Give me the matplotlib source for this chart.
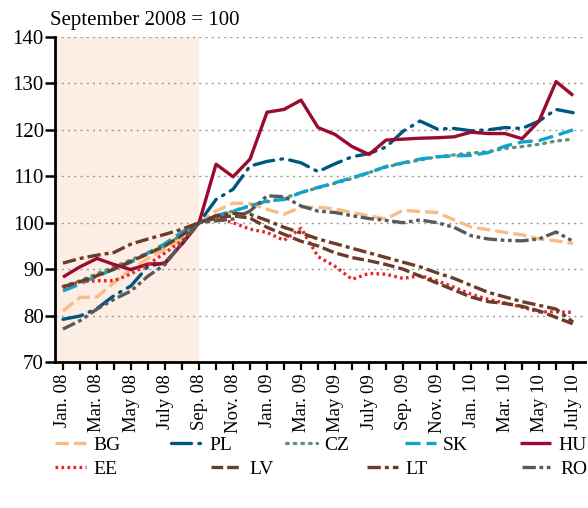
import numpy as np
import matplotlib
matplotlib.use('Agg')
import matplotlib.pyplot as plt

plt.rcParams['font.family'] = ['Liberation Serif', 'DejaVu Serif']

# Jan 08 ... July 10, one point per month
months = ['Jan. 08', '', 'Mar. 08', '', 'May 08', '', 'July 08', '', 'Sep. 08', '',
          'Nov. 08', '', 'Jan. 09', '', 'Mar. 09', '', 'May 09', '', 'July 09', '',
          'Sep. 09', '', 'Nov. 09', '', 'Jan. 10', '', 'Mar. 10', '', 'May 10', '',
          'July 10']

bg = [81.0, 83.9, 84.0, 87.1, 90.0, 92.3, 94.3, 96.5, 100, 102.5, 104.2, 104.1, 102.9,
      101.8, 103.4, 103.3, 103.0, 102.2, 101.5, 100.8, 102.7, 102.4, 102.2, 100.6,
      99.1, 98.5, 97.9, 97.4, 96.5, 96.1, 95.5]
pl = [79.2, 79.9, 81.5, 84.3, 86.4, 90.6, 91.4, 95.4, 100, 105.0, 107.2, 112.2, 113.2,
      113.8, 112.9, 111.0, 112.7, 114.2, 114.9, 116.3, 119.7, 121.9, 120.2, 120.3,
      119.8, 120.0, 120.5, 120.3, 121.9, 124.4, 123.7]
cz = [86.3, 87.5, 89.0, 90.5, 92.0, 93.5, 95.0, 97.5, 100, 101.5, 102.5, 103.7, 104.5,
      105.3, 106.5, 107.5, 108.5, 109.5, 110.8, 112.0, 112.8, 113.5, 114.2, 114.6,
      115.0, 115.3, 116.0, 116.4, 116.9, 117.6, 118.0]
sk = [85.3, 86.8, 88.5, 90.0, 91.5, 93.5, 95.5, 98.0, 100, 101.5, 102.5, 103.6, 104.7,
      105.0, 106.5, 107.6, 108.6, 109.7, 110.8, 112.1, 112.9, 113.7, 114.2, 114.4,
      114.5, 115.1, 116.5, 117.4, 117.7, 118.8, 120.0]
hu = [88.3, 90.5, 92.3, 91.0, 89.9, 91.1, 91.2, 95.5, 100, 112.6, 109.9, 113.7, 123.8,
      124.4, 126.4, 120.5, 119.0, 116.4, 114.7, 117.8, 118.0, 118.2, 118.3, 118.5,
      119.5, 119.2, 119.2, 118.1, 121.9, 130.4, 127.4]
ee = [86.0, 87.3, 87.5, 87.5, 89.0, 91.0, 93.5, 96.1, 100, 101.0, 100.0, 98.6, 97.9,
      96.2, 98.8, 92.7, 90.6, 87.8, 89.1, 88.9, 88.0, 88.6, 87.5, 86.1, 84.6, 83.5,
      82.7, 81.8, 80.8, 80.8, 80.7]
lv = [86.2, 87.3, 88.6, 90.0, 91.7, 93.3, 95.0, 97.3, 100, 101.0, 101.5, 101.0, 99.0,
      97.5, 96.0, 95.0, 93.5, 92.5, 91.8, 91.0, 90.0, 88.5, 87.0, 85.5, 84.0, 83.0,
      82.6, 82.0, 81.0, 79.6, 78.2]
lt = [91.3, 92.3, 93.0, 93.6, 95.4, 96.5, 97.5, 98.6, 100, 101.5, 102.0, 101.8, 100.5,
      99.0, 97.8, 96.5, 95.5, 94.5, 93.5, 92.5, 91.5, 90.5, 89.2, 88.0, 86.5, 85.0,
      84.0, 83.0, 82.2, 81.4, 78.6]
ro = [77.1, 78.9, 81.4, 83.5, 85.3, 88.5, 91.0, 95.8, 100, 100.4, 100.8, 102.5, 105.8,
      105.6, 103.6, 102.5, 102.2, 101.5, 100.9, 100.5, 100.0, 100.6, 100.0, 99.0, 97.2,
      96.5, 96.2, 96.1, 96.5, 98.0, 96.0]

x = np.arange(len(months))

# name, data, colour, dashes (None = solid), cap
series = [
    ('BG', bg, '#F9BC86', (4, 1.5), 'butt'),
    ('PL', pl, '#00567F', (6, 2.2, 0.5, 2.2), 'round'),
    ('CZ', cz, '#5E9378', (0.5, 1.8), 'round'),
    ('SK', sk, '#13A2CC', (4.5, 1.8), 'butt'),
    ('HU', hu, '#9A0B2F', None, 'butt'),
    ('EE', ee, '#E8242A', (0.8, 1.0), 'butt'),
    ('LV', lv, '#6B3C27', (3.5, 1.2), 'butt'),
    ('LT', lt, '#6B3C27', (4, 1.2, 1.2, 1.2), 'butt'),
    ('RO', ro, '#595959', (4, 1.1, 1.1, 1.1, 1.1, 1.1), 'butt'),
]

fig = plt.figure(figsize=(5.88, 5.08), dpi=100)
ax = fig.add_axes([55 / 588, 1 - 362 / 508, 530 / 588, 325 / 508])

ax.axvspan(-0.47, 8, color='#FCEEE4', zorder=0, lw=0)
for v in range(80, 141, 10):
    ax.axhline(v, color='#9a9a9a', lw=1.0, ls=(0, (1.5, 3)), zorder=1)

handles = {}
for name, data, col, dash, cap in series:
    ln, = ax.plot(x, data, color=col, lw=2.4, zorder=3, label=name,
                  solid_capstyle='butt', dash_capstyle=cap)
    if dash is not None:
        ln.set_dashes(dash)
    handles[name] = ln

ax.set_xlim(-0.47, 30.7)
ax.set_ylim(70, 140)
ax.set_yticks(range(70, 141, 10))
ax.set_xticks(x)
ax.set_xticklabels(months, rotation=90)
ax.tick_params(axis='y', labelsize=15, length=7, width=1.8, direction='out', pad=1)
ax.tick_params(axis='x', labelsize=13.5, length=6, width=1.6, direction='out', pad=2.5)
for s in ['top', 'right']:
    ax.spines[s].set_visible(False)
for s in ['left', 'bottom']:
    ax.spines[s].set_linewidth(2.0)

fig.text(50 / 588, 1 - 21 / 508, 'September 2008 = 100', fontsize=15, va='center')

# legend, placed entry by entry
rows = [(['BG', 'PL', 'CZ', 'SK', 'HU'], [55, 171, 286, 405, 520], 445),
        (['EE', 'LV', 'LT', 'RO'], [55, 211, 367, 522], 469)]
for names, xs, yp in rows:
    for name, xp in zip(names, xs):
        fig.legend([handles[name]], [name], loc='center left',
                   bbox_to_anchor=(xp / 588, 1 - yp / 508), frameon=False,
                   borderpad=0, borderaxespad=0, handlelength=1.6,
                   handletextpad=0.35, fontsize=14)

fig.savefig('out.png', dpi=100)
